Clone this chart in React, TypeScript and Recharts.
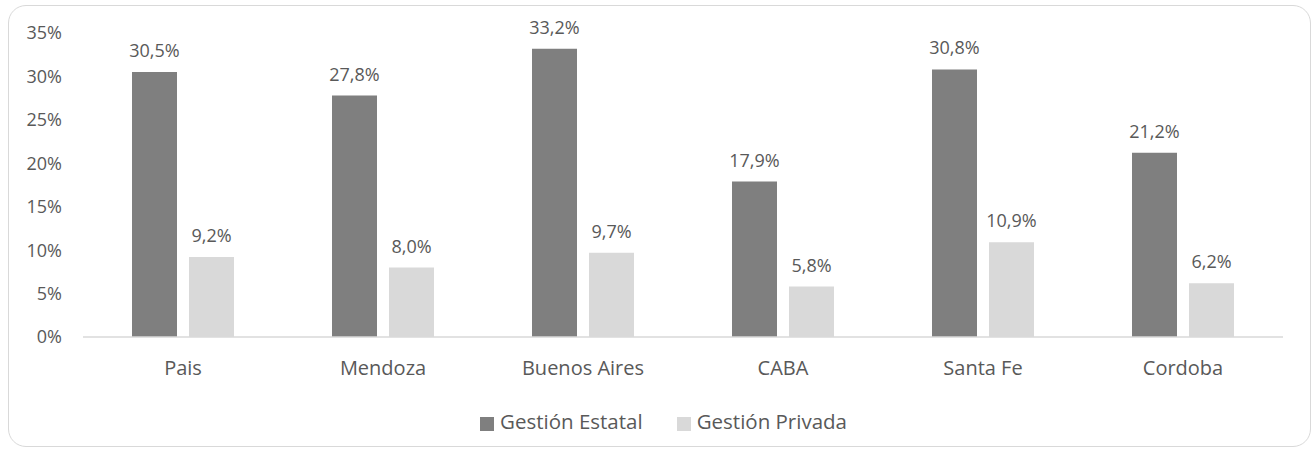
import React from "react";
import { BarChart, Bar, XAxis, YAxis, Legend, LabelList } from "recharts";

const categories = ["Pais", "Mendoza", "Buenos Aires", "CABA", "Santa Fe", "Cordoba"];
const estatal = [30.5, 27.8, 33.2, 17.9, 30.8, 21.2];
const privada = [9.2, 8.0, 9.7, 5.8, 10.9, 6.2];
const yTicks = [0, 5, 10, 15, 20, 25, 30, 35];

const data = categories.map((c, i) => ({ name: c, estatal: estatal[i], privada: privada[i] }));

const FONT = "'Open Sans', sans-serif";
const fmtLabel = (v: any) => `${Number(v).toFixed(1).replace(".", ",")}%`;

export default function App() {
  return (
    <div style={{ position: "absolute", left: 0, top: 0, width: 1314, height: 453, background: "#fff", fontFamily: FONT }}>
      <div
        style={{
          position: "absolute",
          left: 8,
          top: 5,
          width: 1303,
          height: 442,
          border: "1.5px solid #d9d9d9",
          borderRadius: 18,
          boxSizing: "border-box",
        }}
      />
      <div style={{ position: "absolute", left: 0, top: 0 }}>
        <BarChart
          width={1314}
          height={453}
          data={data}
          margin={{ top: 33, right: 31, left: 0, bottom: 48 }}
          barCategoryGap={49}
          barGap={12}
        >
          <XAxis
            dataKey="name"
            axisLine={{ stroke: "#d9d9d9", strokeWidth: 1.5 }}
            tickLine={false}
            tickSize={0}
            tickMargin={24}
            height={40}
            tick={{ fill: "#595959", fontSize: 20, fontFamily: FONT }}
            interval={0}
          />
          <YAxis
            width={83}
            domain={[0, 35]}
            ticks={yTicks}
            axisLine={false}
            tickLine={false}
            tickSize={0}
            tickMargin={21}
            tickFormatter={(v: number) => `${v}%`}
            tick={{ fill: "#595959", fontSize: 18, fontFamily: FONT }}
          />
          <Legend
            verticalAlign="bottom"
            align="center"
            iconType="square"
            iconSize={14}
            wrapperStyle={{ fontFamily: FONT, fontSize: 20.5, bottom: 18, left: 39 }}
            formatter={(value: string) => <span style={{ color: "#595959", marginLeft: 2, marginRight: 24 }}>{value}</span>}
          />
          <Bar dataKey="estatal" name="Gestión Estatal" fill="#7f7f7f" isAnimationActive={false}>
            <LabelList dataKey="estatal" position="top" offset={15} formatter={fmtLabel} fill="#595959" fontSize={18} fontFamily={FONT} />
          </Bar>
          <Bar dataKey="privada" name="Gestión Privada" fill="#d9d9d9" isAnimationActive={false}>
            <LabelList dataKey="privada" position="top" offset={15} formatter={fmtLabel} fill="#595959" fontSize={18} fontFamily={FONT} />
          </Bar>
        </BarChart>
      </div>
    </div>
  );
}
